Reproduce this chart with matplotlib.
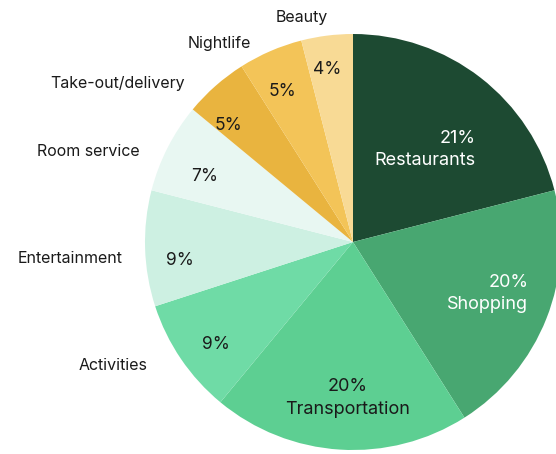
import numpy as np
import matplotlib.pyplot as plt

plt.rcParams['font.family'] = ['Inter', 'DejaVu Sans']

# data, clockwise from 12 o'clock
categories = ['Restaurants', 'Shopping', 'Transportation', 'Activities', 'Entertainment',
              'Room service', 'Take-out/delivery', 'Nightlife', 'Beauty']
shares = [21, 20, 20, 9, 9, 7, 5, 5, 4]
colors = ['#1d4a32', '#48a771', '#5dcf92', '#6fdba6', '#cdf0e2',
          '#e8f7f2', '#e9b43f', '#f3c458', '#f8da95']

# pie geometry in pixel units (figure 556x454)
W, H = 556, 454
cx, cy, R = 353, H - 242, 208

fig = plt.figure(figsize=(W / 100, H / 100), dpi=100)
ax = fig.add_axes([0, 0, 1, 1])

wedges, _ = ax.pie(shares, colors=colors, startangle=90, counterclock=False,
                   center=(cx, cy), radius=R, frame=True,
                   wedgeprops=dict(linewidth=0))
ax.set_xlim(0, W)
ax.set_ylim(0, H)
ax.set_aspect('equal')
ax.axis('off')

def pos(ang, r):
    a = np.deg2rad(ang)
    return cx + r * np.cos(a), cy + r * np.sin(a)

# big slices: label + percentage inside
inner_big = {0: (48, 125, 'right', 'white', 39),
             1: (-21, 144, 'right', 'white', 41),
             2: (-92, 156, 'center', '#1a1a1a', 0)}
for i, (ang, r, ha, col, dx) in inner_big.items():
    x, y = pos(ang, r)
    ax.text(x + dx, y, f'{shares[i]}%\n{categories[i]}', ha=ha, va='center',
            color=col, fontsize=13, linespacing=1.4, multialignment=ha)

# small slices: percentage inside, name outside
small_pct = {3: (-143, 171), 4: (186, 174), 5: (156, 162),
             6: (137, 171), 7: (115, 166), 8: (98.6, 174)}
for i, (ang, r) in small_pct.items():
    x, y = pos(ang, r)
    ax.text(x, y, f'{shares[i]}%', ha='center', va='center',
            color='#1a1a1a', fontsize=12.5)

outer = {3: (211, 240, 'right'), 4: (184, 231, 'right'), 5: (157, 232, 'right'),
         6: (136.6, 231, 'right'), 7: (124, 239, 'center'), 8: (103, 230, 'center')}
for i, (ang, r, ha) in outer.items():
    x, y = pos(ang, r)
    ax.text(x, y, categories[i], ha=ha, va='center', color='#1a1a1a', fontsize=11.5)

fig.savefig('out.png', dpi=100, facecolor='white')
